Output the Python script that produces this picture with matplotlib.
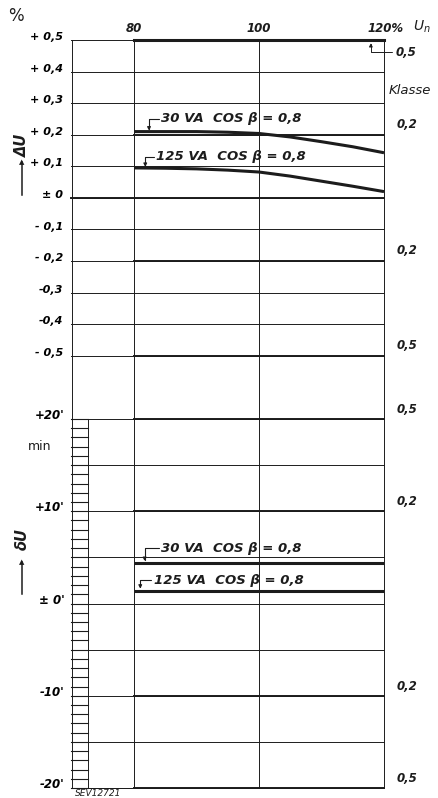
import numpy as np
from matplotlib import pyplot as plt

# DATA
x_main = [80, 100, 120]
upper_grid = [0.5, 0.4, 0.3, 0.2, 0.1, 0.0, -0.1, -0.2, -0.3, -0.4, -0.5]
upper_labels = ['+ 0,5', '+ 0,4', '+ 0,3', '+ 0,2', '+ 0,1', '± 0',
                '- 0,1', '- 0,2', '-0,3', '-0,4', '- 0,5']
lower_grid = [20, 15, 10, 5, 0, -5, -10, -15, -20]
lower_ticks = [20, 10, 0, -10, -20]
lower_labels = ["+20'", "+10'", "± 0'", "-10'", "-20'"]

upper_class = [0.5, 0.2, -0.2, -0.5]
upper_class_lbl = ['0,5', '0,2', '0,2', '0,5']
lower_class = [20, 10, -10, -20]
lower_class_lbl = ['0,5', '0,2', '0,2', '0,5']

curve_x = [80, 85, 90, 95, 100, 105, 110, 115, 120]
dU_30va = [0.21, 0.21, 0.21, 0.208, 0.204, 0.193, 0.178, 0.162, 0.143]
dU_125va = [0.095, 0.094, 0.092, 0.088, 0.082, 0.069, 0.053, 0.037, 0.02]
dmin_30va = [4.4, 4.4, 4.4, 4.4, 4.4, 4.4, 4.4, 4.4, 4.4]
dmin_125va = [1.4, 1.4, 1.4, 1.4, 1.4, 1.4, 1.4, 1.4, 1.4]

ink = '#1c1c1c'
thin = 0.7
mid = 1.4
thick = 2.2
lbl = dict(fontweight='bold', fontstyle='italic', color=ink)

fig = plt.figure(figsize=(4.38, 7.98), dpi=100)
W, H = 438.0, 798.0


def fpos(px, py):
    return px / W, 1 - py / H


ax1 = fig.add_axes([71.5 / W, 1 - 419 / H, (384 - 71.5) / W, 379 / H])
ax2 = fig.add_axes([71.5 / W, 1 - 788 / H, (384 - 71.5) / W, 369 / H])

for ax in (ax1, ax2):
    ax.set_xlim(70, 120)
    for s in ['top', 'bottom']:
        ax.spines[s].set_visible(False)
    for s in ['left', 'right']:
        ax.spines[s].set_linewidth(thin)
        ax.spines[s].set_color(ink)
    ax.set_xticks([])
    ax.tick_params(axis='y', length=0)
    ax.patch.set_alpha(0)
    for xv in x_main[:2]:
        ax.axvline(xv, color=ink, lw=thin)

ax1.set_ylim(-0.7, 0.5)
ax2.set_ylim(-20, 20)

# upper panel grid
for yv in upper_grid:
    ax1.plot([70, 120], [yv, yv], color=ink, lw=thin, clip_on=False)
ax1.plot([70, 120], [0, 0], color=ink, lw=mid, clip_on=False)
for yv, t in zip(upper_class, upper_class_lbl):
    ax1.plot([80, 120], [yv, yv], color=ink, lw=mid if yv != 0.5 else thick,
             clip_on=False)
    if yv == 0.5:
        # top class label sits below the frame with a small leader
        ax1.annotate(t, xy=(117.9, 0.49), xytext=(121.9, 0.462),
                     fontsize=8.5, ha='left', va='center',
                     arrowprops=dict(arrowstyle='-|>', lw=0.7, color=ink,
                                     mutation_scale=5, shrinkA=1, shrinkB=0,
                                     relpos=(0, 0.5),
                                     connectionstyle='angle,angleA=0,angleB=90,rad=0'),
                     annotation_clip=False, **lbl)
    else:
        ax1.text(122.0, yv + 0.012, t, fontsize=8.5, ha='left', va='bottom', **lbl)

ax1.set_yticks(upper_grid, upper_labels)
for t in ax1.get_yticklabels():
    t.set_fontsize(8)
    t.set_fontweight('bold')
    t.set_fontstyle('italic')
    t.set_verticalalignment('baseline')
ax1.tick_params(axis='y', pad=6)

ax1.plot(curve_x, dU_30va, color=ink, lw=thick, solid_capstyle='butt')
ax1.plot(curve_x, dU_125va, color=ink, lw=thick, solid_capstyle='butt')

arrow = dict(arrowstyle='-|>', connectionstyle='angle,angleA=0,angleB=90,rad=0',
             shrinkA=0, shrinkB=0, lw=0.8, color=ink, mutation_scale=5,
             relpos=(0, 0.5))
ax1.annotate('30 VA  COS β = 0,8', xy=(82.4, 0.213), xytext=(84.4, 0.25),
             fontsize=9.5, ha='left', va='center', arrowprops=arrow, **lbl)
ax1.annotate('125 VA  COS β = 0,8', xy=(81.8, 0.098), xytext=(83.6, 0.13),
             fontsize=9.5, ha='left', va='center', arrowprops=arrow, **lbl)

# lower panel grid
ladder_x = 72.64
for yv in lower_grid:
    ax2.plot([ladder_x, 120], [yv, yv], color=ink, lw=thin, clip_on=False)
ax2.plot([70, 120], [-20, -20], color=ink, lw=thin, clip_on=False)
for yv, t in zip(lower_class, lower_class_lbl):
    ax2.plot([80, 120], [yv, yv], color=ink, lw=mid, clip_on=False)
    ax2.text(122.0, yv + 0.35, t, fontsize=8.5, ha='left', va='bottom', **lbl)

# minute scale ladder
for m in np.arange(-20, 21):
    ax2.plot([70, ladder_x], [m, m], color=ink, lw=0.8, clip_on=False)
ax2.plot([ladder_x, ladder_x], [-20, 20], color=ink, lw=thin, clip_on=False)

ax2.set_yticks(lower_ticks, lower_labels)
for t in ax2.get_yticklabels():
    t.set_fontsize(8.5)
    t.set_fontweight('bold')
    t.set_fontstyle('italic')
    t.set_verticalalignment('baseline')
ax2.tick_params(axis='y', pad=5)

ax2.plot(curve_x, dmin_30va, color=ink, lw=thick, solid_capstyle='butt')
ax2.plot(curve_x, dmin_125va, color=ink, lw=thick, solid_capstyle='butt')
ax2.annotate('30 VA  COS β = 0,8', xy=(81.7, 4.6), xytext=(84.4, 6.0),
             fontsize=9.5, ha='left', va='center', arrowprops=arrow, **lbl)
ax2.annotate('125 VA  COS β = 0,8', xy=(81.0, 1.6), xytext=(83.2, 2.5),
             fontsize=9.5, ha='left', va='center', arrowprops=arrow, **lbl)

# header / side texts
fig.text(*fpos(134, 28), '80', fontsize=8.5, ha='center', va='center', **lbl)
fig.text(*fpos(259, 28), '100', fontsize=8.5, ha='center', va='center', **lbl)
fig.text(*fpos(368, 28), '120%', fontsize=8.5, ha='left', va='center', **lbl)
fig.text(*fpos(413, 27), '$U_n$', fontsize=10, ha='left', va='center',
         color=ink, fontstyle='italic')
fig.text(*fpos(16, 16), '%', fontsize=12, ha='center', va='center', color=ink)
fig.text(*fpos(389, 91), 'Klasse', fontsize=9.5, ha='left', va='center',
         color=ink, fontstyle='italic')
fig.text(*fpos(40, 446), 'min', fontsize=9, ha='center', va='center', color=ink)

fig.text(*fpos(22, 145), 'ΔU', fontsize=10.5, rotation=90, ha='center',
         va='center', **lbl)
fig.text(*fpos(22, 539), 'δU', fontsize=10.5, rotation=90, ha='center',
         va='center', **lbl)
fig.add_artist(plt.Line2D([22 / W, 22 / W], [1 - 195 / H, 1 - 162 / H],
                          color=ink, lw=1.1))
fig.add_artist(plt.Line2D([22 / W, 22 / W], [1 - 594 / H, 1 - 562 / H],
                          color=ink, lw=1.1))
fig.text(*fpos(22, 162), '▲', fontsize=5, ha='center', va='center', color=ink)
fig.text(*fpos(22, 562), '▲', fontsize=5, ha='center', va='center', color=ink)

fig.text(*fpos(75, 789), 'SEV12721', fontsize=6.5, ha='left', va='top',
         color=ink, fontstyle='italic')

fig.savefig('out.png', dpi=100, facecolor='white')
